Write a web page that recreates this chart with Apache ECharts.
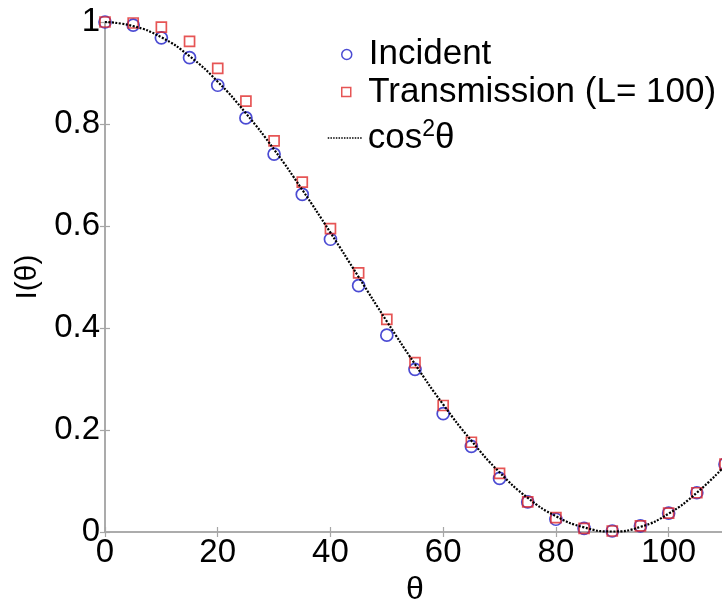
<!DOCTYPE html>
<html>
<head>
<meta charset="utf-8">
<script src="https://cdn.jsdelivr.net/npm/echarts@6/dist/echarts.min.js"></script>
<style>
  html, body { margin: 0; padding: 0; background: #fff; }
  #chart { width: 722px; height: 602px; }
</style>
</head>
<body>
<div id="chart"></div>
<script>
// Polarizer angle θ (degrees) and measured intensities
const angles = [0, 5, 10, 15, 20, 25, 30, 35, 40, 45, 50, 55, 60, 65, 70, 75, 80, 85, 90, 95, 100, 105, 110];
const incident = [1.000, 0.994, 0.969, 0.930, 0.876, 0.812, 0.741, 0.662, 0.574, 0.483, 0.386, 0.319, 0.232, 0.168, 0.105, 0.059, 0.025, 0.007, 0.002, 0.012, 0.037, 0.077, 0.133];
const transmission = [1.000, 0.998, 0.990, 0.962, 0.909, 0.845, 0.767, 0.686, 0.595, 0.508, 0.417, 0.332, 0.248, 0.176, 0.115, 0.059, 0.028, 0.007, 0.002, 0.012, 0.037, 0.077, 0.133];
// Reference curve cos²θ sampled at the same angles
const cosSquared = [1.000, 0.992, 0.970, 0.933, 0.883, 0.821, 0.750, 0.671, 0.587, 0.500, 0.413, 0.329, 0.250, 0.179, 0.117, 0.067, 0.031, 0.009, 0.001, 0.010, 0.036, 0.077, 0.130];
const yTicks = [0, 0.2, 0.4, 0.6, 0.8, 1];

const FONT = "'Liberation Sans', Arial, Helvetica, sans-serif";
const BLUE = '#1e1ec8';
const RED = '#e02a2a';
const AXIS = '#a6a6a6';

const pairs = (ys) => angles.map((a, i) => [a, ys[i]]);

const chart = echarts.init(document.getElementById('chart'), null, { renderer: 'canvas' });

const frameAxis = {
  axisLine: { show: true, lineStyle: { color: AXIS, width: 1.5 } },
  axisTick: { show: true, inside: true, length: 5, lineStyle: { color: AXIS, width: 1.2 } },
  splitLine: { show: false }
};

chart.setOption({
  animation: false,
  backgroundColor: '#fff',
  grid: { left: 105, right: -3, top: 22, bottom: 70, containLabel: false, outerBoundsMode: 'none' },
  xAxis: [
    Object.assign({
      type: 'value', min: 0, max: 110, interval: 20, position: 'bottom',
      name: 'θ', nameLocation: 'middle', nameGap: 39,
      nameTextStyle: { color: '#000', fontSize: 32, fontFamily: FONT },
      axisLabel: { color: '#000', fontSize: 33, fontFamily: FONT, margin: 4, showMaxLabel: false }
    }, frameAxis),
    Object.assign({
      type: 'value', min: 0, max: 110, interval: 20, position: 'top',
      axisLabel: { show: false }
    }, frameAxis)
  ],
  yAxis: [
    Object.assign({
      type: 'value', min: yTicks[0], max: yTicks[yTicks.length - 1], interval: 0.2, position: 'left',
      name: 'I(θ)', nameLocation: 'middle', nameGap: 57, nameRotate: 90,
      nameTextStyle: { color: '#000', fontSize: 30, fontFamily: FONT },
      axisLabel: { color: '#000', fontSize: 33, fontFamily: FONT, margin: 5 }
    }, frameAxis),
    Object.assign({
      type: 'value', min: 0, max: 1, interval: 0.2, position: 'right',
      axisLabel: { show: false }
    }, frameAxis)
  ],
  legend: [
    {
      selectedMode: false, orient: 'vertical', left: 336, top: 29.5,
      itemWidth: 34, itemHeight: 10,
      textStyle: { color: '#000', fontSize: 35, fontFamily: FONT, lineHeight: 40 },
      data: [{ name: 'Incident', icon: 'circle',
               itemStyle: { color: 'transparent', borderColor: BLUE, borderWidth: 1.5 } }]
    },
    {
      selectedMode: false, orient: 'vertical', left: 336, top: 67,
      itemWidth: 34, itemHeight: 9,
      textStyle: { color: '#000', fontSize: 35, fontFamily: FONT, lineHeight: 40 },
      data: [{ name: 'Transmission (L= 100)', icon: 'path://M0 0H9V9H0Z',
               itemStyle: { color: 'transparent', borderColor: RED, borderWidth: 1.5 } }]
    },
    {
      selectedMode: false, orient: 'vertical', left: 322, top: 113,
      itemWidth: 35, itemHeight: 10,
      formatter: () => '{b|cos}{s|2}{b|θ}',
      textStyle: {
        color: '#000', fontFamily: FONT,
        rich: {
          b: { fontSize: 35, lineHeight: 40, fontFamily: FONT, color: '#000' },
          s: { fontSize: 23, lineHeight: 8, verticalAlign: 'top', fontFamily: FONT, color: '#000' }
        }
      },
      lineStyle: { color: '#000', width: 1.5, type: [1.5, 1.2] },
      data: [{ name: 'cos2θ',
               itemStyle: { color: 'transparent', borderColor: 'transparent', borderWidth: 0 } }]
    }
  ],
  series: [
    {
      name: 'Incident', type: 'scatter', xAxisIndex: 0, yAxisIndex: 0,
      symbol: 'circle', symbolSize: 12,
      itemStyle: { color: 'transparent', borderColor: BLUE, borderWidth: 1.7 },
      data: pairs(incident), z: 2
    },
    {
      name: 'Transmission (L= 100)', type: 'scatter', xAxisIndex: 0, yAxisIndex: 0,
      symbol: 'rect', symbolSize: 10,
      itemStyle: { color: 'transparent', borderColor: RED, borderWidth: 1.7 },
      data: pairs(transmission), z: 3
    },
    {
      name: 'cos2θ', type: 'line', xAxisIndex: 0, yAxisIndex: 0,
      symbol: 'none', smooth: true,
      lineStyle: { color: '#000', width: 2.2, type: [2, 1.5] },
      itemStyle: { color: '#000' },
      data: pairs(cosSquared), z: 4
    }
  ]
});
</script>
</body>
</html>
